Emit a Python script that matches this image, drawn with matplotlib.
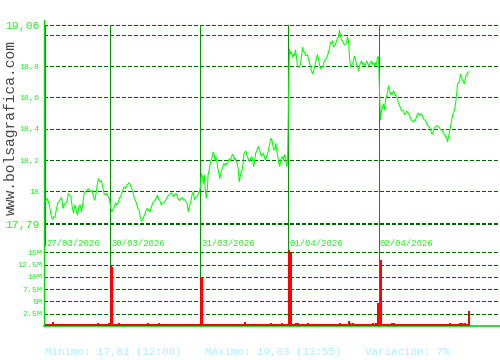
import numpy as np
import matplotlib
matplotlib.use("Agg")
import matplotlib.pyplot as plt

# session labels and widths on the time axis (1 unit ~ 5.7 minutes)
days = ["27/03/2026", "30/03/2026", "31/03/2026", "01/04/2026", "02/04/2026"]
day_width = [65, 90, 88, 91, 90]
first_slot = 1

# intraday prices per session
price_d1 = [17.935, 17.956, 17.935, 17.903, 17.850, 17.823, 17.840, 17.835, 17.882, 17.924,
            17.935, 17.949, 17.962, 17.892, 17.914, 17.924, 17.935, 17.987, 17.977, 17.966,
            17.903, 17.861, 17.914, 17.882, 17.850, 17.903, 17.914, 17.871, 17.924, 17.987,
            17.998, 18.008, 18.017, 18.008, 17.998, 18.008, 17.966, 17.945, 17.987, 18.051,
            18.082, 18.061, 18.068, 18.030, 17.987, 17.977, 17.987, 17.966, 17.956]
price_d2 = [17.903, 17.871, 17.886, 17.903, 17.928, 17.914, 17.924, 17.956, 17.966, 17.987,
            18.008, 18.030, 18.019, 18.040, 18.046, 18.055, 18.040, 18.019, 17.998, 17.966,
            17.945, 17.924, 17.892, 17.882, 17.840, 17.810, 17.819, 17.840, 17.861,
            17.886, 17.892, 17.878, 17.871, 17.899, 17.924, 17.935, 17.945, 17.956, 17.977,
            17.949, 17.941, 17.914, 17.924, 17.928, 17.935, 17.949, 17.966, 17.977, 17.983,
            17.992, 17.983, 17.966, 17.977, 17.987, 17.970, 17.949, 17.941, 17.956, 17.962,
            17.945, 17.949, 17.935, 17.924, 17.871, 17.907, 17.935, 17.977, 17.998, 17.949,
            17.962, 17.966, 17.983, 17.998]
price_d3 = [18.030, 18.114, 18.093, 18.051, 18.103, 18.008, 17.956, 18.008, 18.114, 18.135,
            18.177, 18.198, 18.219, 18.251, 18.241, 18.198, 18.219, 18.188, 18.146, 18.114,
            18.082, 18.114, 18.135, 18.156, 18.177, 18.167, 18.181, 18.173, 18.181, 18.198,
            18.209, 18.198, 18.219, 18.236, 18.230, 18.203, 18.215, 18.188, 18.177, 18.146,
            18.061, 18.093, 18.124, 18.135, 18.177, 18.241, 18.251, 18.257, 18.230, 18.215,
            18.198, 18.192, 18.213, 18.223, 18.202, 18.160, 18.192, 18.244, 18.255, 18.276,
            18.286, 18.265, 18.244, 18.223, 18.234, 18.244, 18.223, 18.202, 18.213, 18.234,
            18.255, 18.286, 18.318, 18.339, 18.324, 18.286, 18.265, 18.276, 18.308, 18.255,
            18.223, 18.181, 18.160, 18.202, 18.213, 18.223, 18.202, 18.234, 18.219, 18.160,
            18.202]
price_d4 = [18.582, 18.909, 18.877, 18.888, 18.856, 18.877, 18.867, 18.903, 18.856, 18.793,
            18.793, 18.793, 18.814, 18.860, 18.919, 18.894, 18.888, 18.867, 18.867, 18.873,
            18.846, 18.824, 18.793, 18.768, 18.751, 18.768, 18.793, 18.818, 18.856, 18.873,
            18.846, 18.810, 18.782, 18.793, 18.793, 18.814, 18.835, 18.839, 18.852, 18.867,
            18.888, 18.915, 18.951, 18.945, 18.962, 18.922, 18.930, 18.938, 18.962, 18.978,
            18.987, 19.030, 18.993, 18.966, 18.962, 18.945, 18.936, 18.936, 18.951, 18.987,
            18.962, 18.856, 18.793, 18.803, 18.814, 18.835, 18.864, 18.843, 18.811, 18.801,
            18.769, 18.801, 18.822, 18.832, 18.811, 18.822, 18.801, 18.811, 18.832, 18.822,
            18.801, 18.811, 18.822, 18.832, 18.811, 18.822, 18.801, 18.822, 18.811, 18.858,
            18.858]
price_d5 = [18.643, 18.457, 18.516, 18.537, 18.558, 18.520, 18.579, 18.605, 18.632, 18.674,
            18.643, 18.617, 18.632, 18.622, 18.643, 18.626, 18.611, 18.611, 18.590, 18.562,
            18.548, 18.533, 18.516, 18.516, 18.516, 18.491, 18.495, 18.512, 18.505, 18.499,
            18.484, 18.470, 18.453, 18.449, 18.442, 18.457, 18.453, 18.478, 18.495, 18.499,
            18.484, 18.491, 18.495, 18.478, 18.463, 18.457, 18.453, 18.436, 18.421, 18.415,
            18.411, 18.394, 18.368, 18.368, 18.389, 18.406, 18.415, 18.417, 18.419, 18.413,
            18.406, 18.394, 18.394, 18.385, 18.368, 18.364, 18.347, 18.347, 18.316, 18.347,
            18.379, 18.415, 18.453, 18.484, 18.505, 18.520, 18.558, 18.611, 18.685, 18.695,
            18.706, 18.748, 18.727, 18.710, 18.695, 18.689, 18.727, 18.744, 18.759, 18.763]
prices = [price_d1, price_d2, price_d3, price_d4, price_d5]

price_grid = [17.79, 17.8, 18.0, 18.2, 18.4, 18.6, 18.8, 19.0, 19.06]
price_ticks = [17.79, 18.0, 18.2, 18.4, 18.6, 18.8, 19.06]
price_tick_labels = ["17,79", "18", "18,2", "18,4", "18,6", "18,8", "19,06"]

# volume (millions): usual small prints plus the larger auctions
vol_floor = 0.35
vol_day = [0, 0, 0, 1, 1, 1, 1, 1, 1, 1, 2, 2, 2, 2, 2,
           3, 3, 3, 3, 3, 3, 3, 3, 3, 3, 3, 3, 3,
           4, 4, 4, 4, 4, 4, 4, 4]
vol_slot = [7, 52, 63, 0, 1, 8, 37, 48, 0, 1, 44, 70, 81, 0, 1,
            1, 2, 7, 9, 19, 51, 60, 61, 64, 84, 87, 89, 0,
            1, 12, 14, 70, 80, 82, 85, 89]
vol_value = [0.8, 0.7, 0.7, 12.2, 12.0, 0.7, 0.7, 0.7, 9.9, 9.8, 0.8, 0.6, 0.6, 9.9, 9.8,
             14.8, 14.8, 0.6, 0.6, 0.6, 0.7, 1.1, 0.7, 0.6, 0.6, 0.6, 4.6, 15.5,
             13.4, 0.7, 0.6, 0.6, 0.7, 0.7, 0.7, 3.0]
vol_ticks = [2.5, 5, 7.5, 10, 12.5, 15]
vol_tick_labels = ["2.5M", "5M", "7.5M", "10M", "12.5M", "15M"]

stats = ["Mínimo: 17,81 (12:00)", "Máximo: 19,03 (13:55)", "Variación: 7%"]

mono = "Liberation Mono"
green_txt = "#22ee22"
grid_col = "#006600"
day_col = "#009900"
spine_col = "#00dd00"
dash = (0, (3.8, 2.2))

fig = plt.figure(figsize=(5, 3.6), dpi=100, facecolor="white")
ax = fig.add_axes([0.088, 1 - 246 / 360, 0.912, 226 / 360])
axv = fig.add_axes([0.088, 1 - 326 / 360, 0.912, 80 / 360])

starts = first_slot + np.concatenate([[0], np.cumsum(day_width)[:-1]])
end = starts[-1] + day_width[-1]
xmax = 456

# price panel
ylo, yhi = 17.652, 19.094
for g in price_grid:
    ax.axhline(g, color=grid_col, lw=0.7, ls=dash, antialiased=False, zorder=1)
ax.vlines(starts, ylo, 19.06, color=day_col, lw=0.7, antialiased=False, zorder=2)

xs, ys = [], []
for s, w, p in zip(starts, day_width, prices):
    xs.append(s + (np.arange(len(p)) + 0.5) * w / len(p))
    ys.append(p)
ax.plot(np.concatenate(xs), np.concatenate(ys), color="#00ff00", lw=0.75, zorder=3)

ax.set_xlim(0, xmax)
ax.set_ylim(ylo, yhi)
ax.set_xticks([])
ax.set_yticks(price_ticks)
ax.set_yticklabels(price_tick_labels, family=mono, color=green_txt)
ax.tick_params(axis="y", length=0, pad=3)
for i, t in enumerate(ax.get_yticklabels()):
    t.set_fontsize(8.2 if i in (0, len(price_ticks) - 1) else 6.0)
for side in ["top", "right", "bottom"]:
    ax.spines[side].set_visible(False)
ax.spines["left"].set_color(spine_col)
ax.spines["left"].set_linewidth(1.0)

for s, lab in zip(starts, days):
    ax.text(s + 1, 0.009, lab, transform=ax.get_xaxis_transform(), family=mono,
            fontsize=6.4, color=green_txt, va="center", ha="left")

# volume panel
vtop = 16.28
for g in vol_ticks:
    axv.axhline(g, color=grid_col, lw=0.7, ls=dash, antialiased=False, zorder=1)
axv.vlines(starts[1:], 0, vtop, color=day_col, lw=0.7, antialiased=False, zorder=2)
slots = np.arange(first_slot, end)
axv.bar(slots, vol_floor, width=1, align="edge", color="#ff0000", lw=0, zorder=3)
vx = [starts[d] + o for d, o in zip(vol_day, vol_slot)]
axv.bar(vx, vol_value, width=1.5, align="edge", color="#ff0000", lw=0,
        antialiased=False, zorder=3)
axv.set_xlim(0, xmax)
axv.set_ylim(0, vtop)
axv.set_xticks([])
axv.set_yticks(vol_ticks)
axv.set_yticklabels(vol_tick_labels, family=mono, color=green_txt, fontsize=6.0)
axv.tick_params(axis="y", length=0, pad=1)
for side in ["top", "right"]:
    axv.spines[side].set_visible(False)
for side in ["left", "bottom"]:
    axv.spines[side].set_color(spine_col)
axv.spines["left"].set_linewidth(1.0)
axv.spines["bottom"].set_linewidth(1.2)

# watermark and summary line
fig.text(10.7 / 500, 1 - 127.5 / 360, "www.bolsagrafica.com", rotation=90, family=mono,
         fontsize=10.5, color="#444444", ha="center", va="center")
for xp, s in zip([45, 205, 365], stats):
    fig.text(xp / 500, 1 - 352 / 360, s, family=mono, fontsize=7.8, color="#aaeeff",
             ha="left", va="center")

fig.savefig("out.png", dpi=100, facecolor="white")
